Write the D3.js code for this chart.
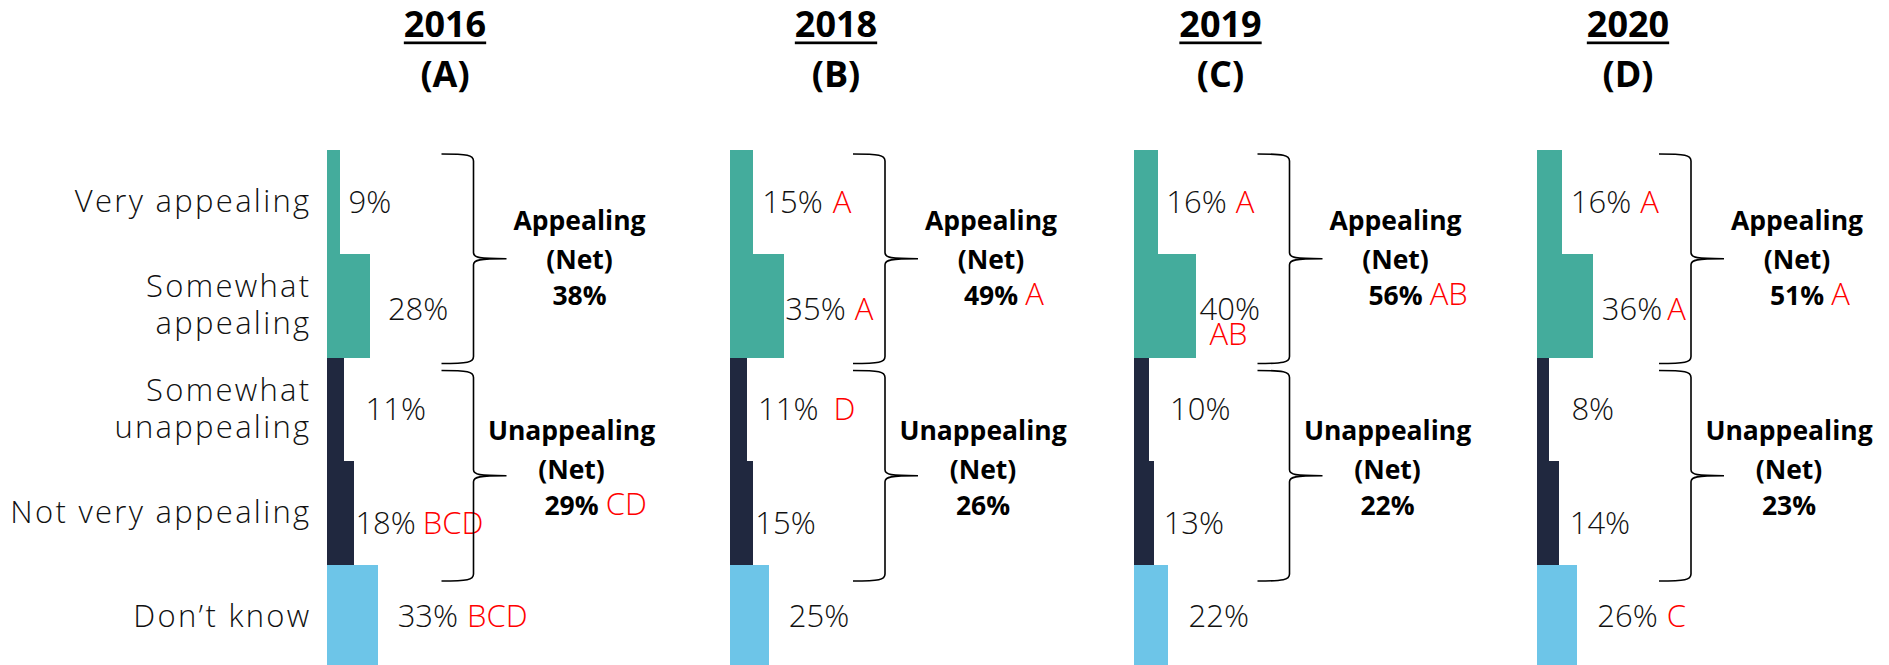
<!DOCTYPE html>
<html lang="en">
<head>
  <meta charset="utf-8">
  <title>Appeal by year</title>
  <script src="https://d3js.org/d3.v7.min.js"></script>
  <style>
    body { margin: 0; background: #fff; }
    svg text { font-family: "Open Sans", sans-serif; }
    .lt { font-weight: 300; font-size: 31px; fill: #111; }
    .cat { letter-spacing: 2.3px; }
    .bd { font-weight: 700; fill: #000; }
    .sig { fill: #ff0000; }
    .brace { fill: none; stroke: #000; stroke-width: 1.6; }
  </style>
</head>
<body>
<div id="chart"></div>
<script type="text/javascript">
  "use strict"

  // data
  var years = ["2016", "2018", "2019", "2020"];
  var codes = ["A", "B", "C", "D"];
  var categories = ["Very appealing", "Somewhat appealing", "Somewhat unappealing", "Not very appealing", "Don’t know"];
  var categoryLines = [["Very appealing"], ["Somewhat", "appealing"], ["Somewhat", "unappealing"], ["Not very appealing"], ["Don’t know"]];

  var values2016 = [9, 28, 11, 18, 33];
  var values2018 = [15, 35, 11, 15, 25];
  var values2019 = [16, 40, 10, 13, 22];
  var values2020 = [16, 36, 8, 14, 26];

  var sig2016 = ["", "", "", "BCD", "BCD"];
  var sig2018 = ["A", "A", "D", "", ""];
  var sig2019 = ["A", "AB", "", "", ""];
  var sig2020 = ["A", "A", "", "", "C"];

  var netAppealing = [38, 49, 56, 51];
  var netAppealingSig = ["", "A", "AB", "A"];
  var netUnappealing = [29, 26, 22, 23];
  var netUnappealingSig = ["CD", "", "", ""];

  var allValues = [values2016, values2018, values2019, values2020];
  var allSig = [sig2016, sig2018, sig2019, sig2020];

  // layout (hand placed like on the slide)
  var W = 1889, H = 665;
  var colors = ["#44ac9c", "#44ac9c", "#20283f", "#20283f", "#6dc5e8"];
  var labelGap = [[8, 18, 22, 1, 20], [9, 1, 11, 2, 20], [8, 4, 21, 10, 21], [9, 9, 22, 11, 20]];
  var sigGap = [[9, 9, 9, 7, 9], [10, 9, 15, 9, 9], [9, 9, 9, 9, 9], [9, 5, 9, 9, 9]];
  var rowDy = [11, 14, 11, 21, 10];
  var wrapSig = {"2019-1": true};
  var titleOffset = [118.5, 106, 87, 91];
  var rightShift = [-8, 0, 1, -1];

  var svg = d3.select("#chart").append("svg")
      .attr("width", W)
      .attr("height", H);

  var panel = d3.scaleBand().domain(years).range([326.5, 326.5 + 403.5 * years.length]);
  var x = d3.scaleLinear().domain([0, 100]).range([0, 155]);
  var y = d3.scaleBand().domain(categories).range([150, 668.75]);
  var bw = y.bandwidth();

  // row labels on the left
  var catG = svg.append("g");
  categoryLines.forEach(function (lines, j) {
    var t = catG.append("text")
        .attr("class", "lt cat")
        .attr("text-anchor", "end");
    lines.forEach(function (l, k) {
      t.append("tspan")
          .attr("x", panel(years[0]) - 15)
          .attr("y", y(categories[j]) + bw / 2 + 10 + (k - (lines.length - 1) / 2) * 36.5)
          .text(l);
    });
  });

  function bracePath(x0, xs, xp, y0, y1) {
    var ym = (y0 + y1) / 2;
    return "M" + x0 + "," + y0 +
      " C" + (xs - 6) + "," + y0 + " " + xs + "," + (y0 + 1) + " " + xs + "," + (y0 + 7) +
      " L" + xs + "," + (ym - 6) +
      " C" + xs + "," + (ym - 1) + " " + (xs + 6) + "," + ym + " " + xp + "," + ym +
      " C" + (xs + 6) + "," + ym + " " + xs + "," + (ym + 1) + " " + xs + "," + (ym + 6) +
      " L" + xs + "," + (y1 - 7) +
      " C" + xs + "," + (y1 - 1) + " " + (xs - 6) + "," + y1 + " " + x0 + "," + y1;
  }

  years.forEach(function (year, i) {
    var vals = allValues[i], sigs = allSig[i];
    var g = svg.append("g").attr("transform", "translate(" + panel(year) + ",0)");

    // title
    var cx = titleOffset[i];
    var yr = g.append("text")
        .attr("class", "bd")
        .attr("x", cx).attr("y", 37)
        .attr("text-anchor", "middle")
        .style("font-size", "36px")
        .text(year);
    var bb = yr.node().getBBox();
    g.append("rect")
        .attr("x", bb.x).attr("y", 41.5)
        .attr("width", bb.width).attr("height", 2.7)
        .attr("fill", "#000");
    g.append("text")
        .attr("class", "bd")
        .attr("x", cx).attr("y", 87)
        .attr("text-anchor", "middle")
        .style("font-size", "36px")
        .text("(" + codes[i] + ")");

    // bars
    g.selectAll("rect.bar")
      .data(vals)
      .join("rect")
        .attr("class", "bar")
        .attr("x", 0)
        .attr("y", (d, j) => y(categories[j]))
        .attr("width", d => x(d))
        .attr("height", bw + 0.5)
        .attr("fill", (d, j) => colors[j])
        .attr("shape-rendering", "crispEdges");

    // value labels
    vals.forEach(function (d, j) {
      var lx = x(d) + labelGap[i][j];
      var t = g.append("text")
          .attr("class", "lt")
          .attr("x", lx)
          .attr("y", y(categories[j]) + bw / 2 + rowDy[j])
          .text(d + "%");
      if (sigs[j]) {
        var s = t.append("tspan").attr("class", "sig").text(sigs[j]);
        if (wrapSig[year + "-" + j]) s.attr("x", lx + 10).attr("dy", 25);
        else s.attr("dx", sigGap[i][j]);
      }
    });

    // braces and nets
    var groups = [
      {name: "Appealing", rows: [0, 1], v: netAppealing[i], s: netAppealingSig[i], top: 4, bot: 6, dy: [-29, 10, 46], off: 261},
      {name: "Unappealing", rows: [2, 3], v: netUnappealing[i], s: netUnappealingSig[i], top: 13, bot: 16, dy: [-36, 3, 39], off: 253}
    ];
    groups.forEach(function (gr) {
      var y0 = y(categories[gr.rows[0]]) + gr.top;
      var y1 = y(categories[gr.rows[1]]) + bw + gr.bot;
      var ym = (y0 + y1) / 2;
      var sh = rightShift[i];
      g.append("path")
          .attr("class", "brace")
          .attr("d", bracePath(123 + sh, 155 + sh, 188 + sh, y0, y1));
      var nx = gr.off + sh;
      [gr.name, "(Net)"].forEach(function (l, k) {
        g.append("text")
            .attr("class", "bd")
            .attr("x", nx).attr("y", ym + gr.dy[k])
            .attr("text-anchor", "middle")
            .style("font-size", "26.5px")
            .text(l);
      });
      var nv = g.append("text")
          .attr("class", "bd")
          .attr("x", nx).attr("y", ym + gr.dy[2])
          .attr("text-anchor", "middle")
          .style("font-size", "26.5px")
          .text(gr.v + "%");
      if (gr.s) {
        var nb = nv.node().getBBox();
        g.append("text")
            .attr("class", "lt sig")
            .attr("x", nb.x + nb.width + 7)
            .attr("y", ym + gr.dy[2])
            .text(gr.s);
      }
    });
  });
</script>
</body>
</html>
